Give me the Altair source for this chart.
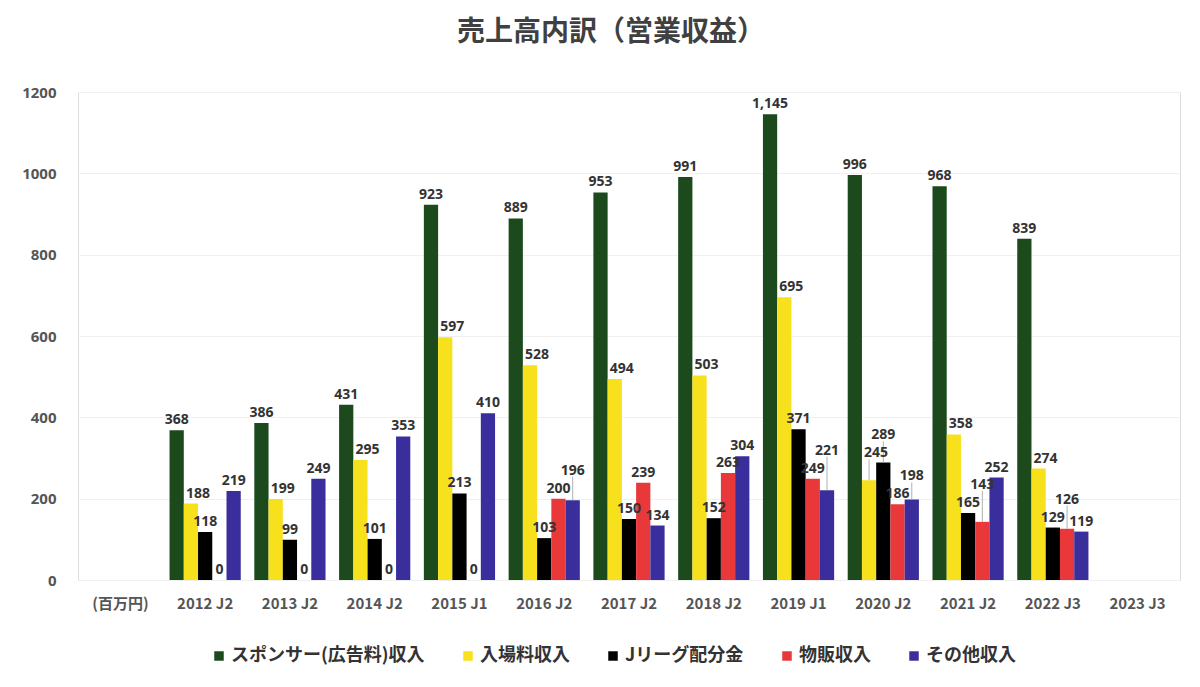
import altair as alt
import pandas as pd

unit_label = "(百万円)"
seasons = ["2012 J2", "2013 J2", "2014 J2", "2015 J1", "2016 J2", "2017 J2",
           "2018 J2", "2019 J1", "2020 J2", "2021 J2", "2022 J3", "2023 J3"]
series = ["スポンサー(広告料)収入", "入場料収入", "Jリーグ配分金", "物販収入", "その他収入"]
colors = ["#1c4a1c", "#f7e11c", "#000000", "#e8383a", "#3a2e9c"]

# values per series, one per season (2023 J3 has no data)
sponsor = [368, 386, 431, 923, 889, 953, 991, 1145, 996, 968, 839, None]
admission = [188, 199, 295, 597, 528, 494, 503, 695, 245, 358, 274, None]
jleague = [118, 99, 101, 213, 103, 150, 152, 371, 289, 165, 129, None]
merch = [0, 0, 0, 0, 200, 239, 263, 249, 186, 143, 126, None]
other = [219, 249, 353, 410, 196, 134, 304, 221, 198, 252, 119, None]

rows = []
for name, vals in zip(series, [sponsor, admission, jleague, merch, other]):
    for s, v in zip(seasons, vals):
        if v is not None:
            rows.append({"season": s, "series": name, "value": v})
df = pd.DataFrame(rows)

# ---- simple label collision avoidance (labels lifted in value units, drawn via the y scale)
PLOT_W, PLOT_H, YMAX = 1102, 488, 1200
upx = YMAX / PLOT_H              # value units per pixel
step = PLOT_W / (len(seasons) + 1)
PAD_IN = 0.16
bar_w = step * (1 - PAD_IN) / len(series)
FONT = 14
GAP = 6
TXT_H = 14
BAR_TOL = 7                      # labels may overlap a neighbouring bar by a few pixels
label_dx = {1: 7}                # yellow labels nudged right, away from the tall green bar

def text_w(s):
    return FONT * 0.585 * len(s.replace(",", "")) + 3.5 * s.count(",")

label_y = []
for s in seasons:
    sub = df[df.season == s]
    if sub.empty:
        continue
    vals = {series.index(n): float(v) for n, v in zip(sub.series, sub.value)}
    bars_rect = [((j - 2) * bar_w - bar_w / 2 + BAR_TOL, (j - 2) * bar_w + bar_w / 2 - BAR_TOL,
                  -1000, v / upx + 1) for j, v in vals.items()]
    placed = []
    for i in range(len(series)):
        if i not in vals:
            continue
        v = vals[i]
        txt = f"{int(v):,}"
        cx = (i - 2) * bar_w + label_dx.get(i, 0)
        w = text_w(txt)
        y = v / upx + GAP          # pixel height of label baseline
        obstacles = placed + bars_rect
        moved = True
        while moved:
            moved = False
            for (px0, px1, py0, py1) in obstacles:
                if cx - w / 2 < px1 and cx + w / 2 > px0 and y < py1 + 2 and y + TXT_H > py0 - 2:
                    y = py1 + 4
                    moved = True
        placed.append((cx - w / 2, cx + w / 2, y - 3, y + TXT_H))
        label_y.append((s, series[i], y * upx))
lab = pd.DataFrame(label_y, columns=["season", "series", "label_y"])
df = df.merge(lab, on=["season", "series"])
df["lifted"] = (df.label_y - df.value) > (GAP + 4) * upx
df["rule_top"] = df.label_y - 2 * upx
df["dx"] = [label_dx.get(series.index(n), 0) for n in df.series]

num_font = "Open Sans"
jp_font = "Noto Sans CJK JP"
dom = [unit_label] + seasons

x_enc = alt.X("season:N", sort=dom,
              scale=alt.Scale(domain=dom, paddingInner=PAD_IN, paddingOuter=PAD_IN / 2),
              axis=alt.Axis(title=None, labelAngle=0, ticks=False, domain=False,
                            labelPadding=16, labelFontSize=15, labelFontWeight="bold",
                            labelColor="#555555", labelFont=jp_font))
xo = alt.XOffset("series:N", sort=series, scale=alt.Scale(domain=series))
y_scale = alt.Scale(domain=[0, YMAX])

base = alt.Chart(df)

bars = base.mark_bar().encode(
    x=x_enc,
    xOffset=xo,
    y=alt.Y("value:Q", scale=y_scale,
            axis=alt.Axis(title=None, values=[0, 200, 400, 600, 800, 1000, 1200], format="d",
                          ticks=False, domain=False, labelPadding=22,
                          labelFontSize=15, labelFontWeight="bold", labelColor="#555555",
                          labelFont=num_font, gridColor="#f0f0f0", gridWidth=1)),
    color=alt.Color("series:N", sort=series,
                    scale=alt.Scale(domain=series, range=colors),
                    legend=alt.Legend(title=None, orient="none", direction="horizontal",
                                      legendX=132, legendY=555, symbolType="square",
                                      symbolSize=90, symbolStrokeWidth=0, labelLimit=0,
                                      labelFontSize=18, labelFontWeight="bold",
                                      labelColor="#333333", labelFont=jp_font,
                                      columnPadding=34, labelOffset=3)),
)

leaders = base.transform_filter("datum.lifted").mark_rule(color="#b0b0b0", strokeWidth=1).encode(
    x=alt.X("season:N", sort=dom),
    xOffset=xo,
    y=alt.Y("value:Q", scale=y_scale),
    y2="rule_top:Q",
)

def label_layer(data_filter, dx):
    return base.transform_filter(data_filter).mark_text(
        fontSize=FONT, fontWeight="bold", color="#333333", font=num_font,
        baseline="alphabetic", dx=dx).encode(
        x=alt.X("season:N", sort=dom),
        xOffset=xo,
        y=alt.Y("label_y:Q", scale=y_scale),
        text=alt.Text("value:Q", format=","),
    )

labels_plain = label_layer("datum.dx == 0", 0)
labels_shift = label_layer("datum.dx != 0", label_dx[1])

chart = (bars + leaders + labels_plain + labels_shift).properties(
    width=PLOT_W, height=PLOT_H,
    autosize=alt.AutoSizeParams(type="none"),
    padding={"left": 70, "top": 84, "right": 12, "bottom": 99},
    title=alt.Title("売上高内訳（営業収益）", font=jp_font, fontSize=28, fontWeight="bold",
                    color="#404040", offset=38, dx=-18),
).configure_view(stroke=None).configure(background="white")

chart.save("out.html", embed_options={"renderer": "svg", "actions": False})
